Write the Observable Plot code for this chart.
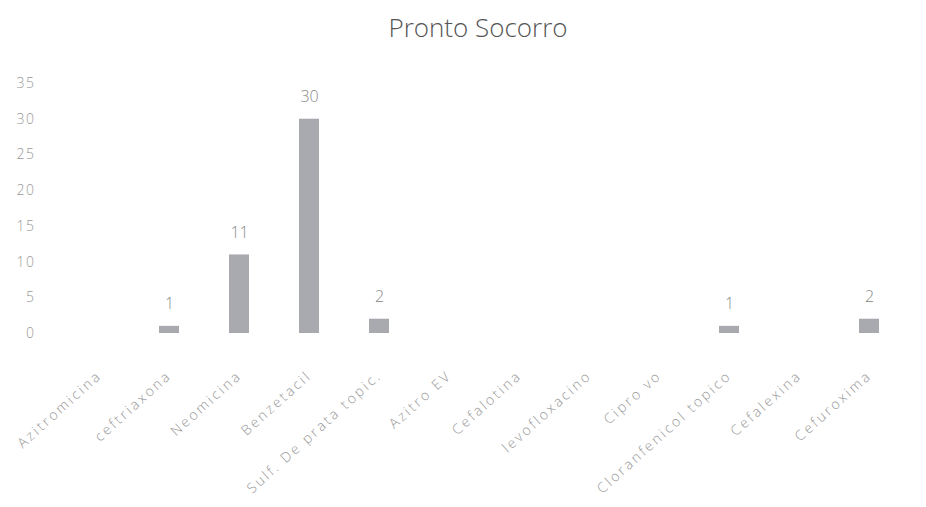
<!DOCTYPE html>
<html>
<head>
<meta charset="utf-8">
<script src="https://cdn.jsdelivr.net/npm/d3@7"></script>
<script src="https://cdn.jsdelivr.net/npm/@observablehq/plot@0.6"></script>
<style>
  html, body { margin: 0; padding: 0; background: #fff; }
  #title { height: 60px; width: 926px; text-align: center; font-family: "Open Sans", sans-serif; font-weight: 300; font-size: 26px; color: #555; line-height: 54px; padding-left: 30px; box-sizing: border-box; }
  .xlab text { letter-spacing: 2.5px; }
  .ylab text { letter-spacing: 1.5px; }
</style>
</head>
<body>
<div id="title">Pronto Socorro</div>
<div id="chart"></div>
<script>
const categories = ["Azitromicina", "ceftriaxona", "Neomicina", "Benzetacil", "Sulf. De prata topic.", "Azitro EV", "Cefalotina", "levofloxacino", "Cipro vo", "Cloranfenicol topico", "Cefalexina", "Cefuroxima"];
const values = [0, 1, 11, 30, 2, 0, 0, 0, 0, 1, 0, 2];
const yTicks = [0, 5, 10, 15, 20, 25, 30, 35];

const data = categories.map((c, i) => ({category: c, value: values[i]}));

const chart = Plot.plot({
  width: 926,
  height: 447,
  marginTop: 23,
  marginBottom: 174,
  marginLeft: 61,
  marginRight: 20,
  style: {fontFamily: "Open Sans, sans-serif", background: "#fff"},
  x: {domain: categories, paddingInner: 0.72, paddingOuter: 0.36, label: null},
  y: {domain: [0, 35], label: null},
  marks: [
    Plot.axisX({tickSize: 0, tickRotate: -42, tickPadding: 40, fontSize: 14, fill: "#999", fontWeight: 300, className: "xlab"}),
    Plot.axisY({ticks: yTicks, tickSize: 0, tickPadding: 26, fontSize: 14, fill: "#999", fontWeight: 300, className: "ylab"}),
    Plot.barY(data, {x: "category", y: "value", fill: "#a9a9b0"}),
    Plot.text(data.filter(d => d.value > 0), {x: "category", y: "value", text: d => String(d.value), lineAnchor: "bottom", dy: -17, fontSize: 16, fontWeight: 300, fill: "#888"})
  ]
});
document.getElementById("chart").appendChild(chart);
</script>
</body>
</html>
